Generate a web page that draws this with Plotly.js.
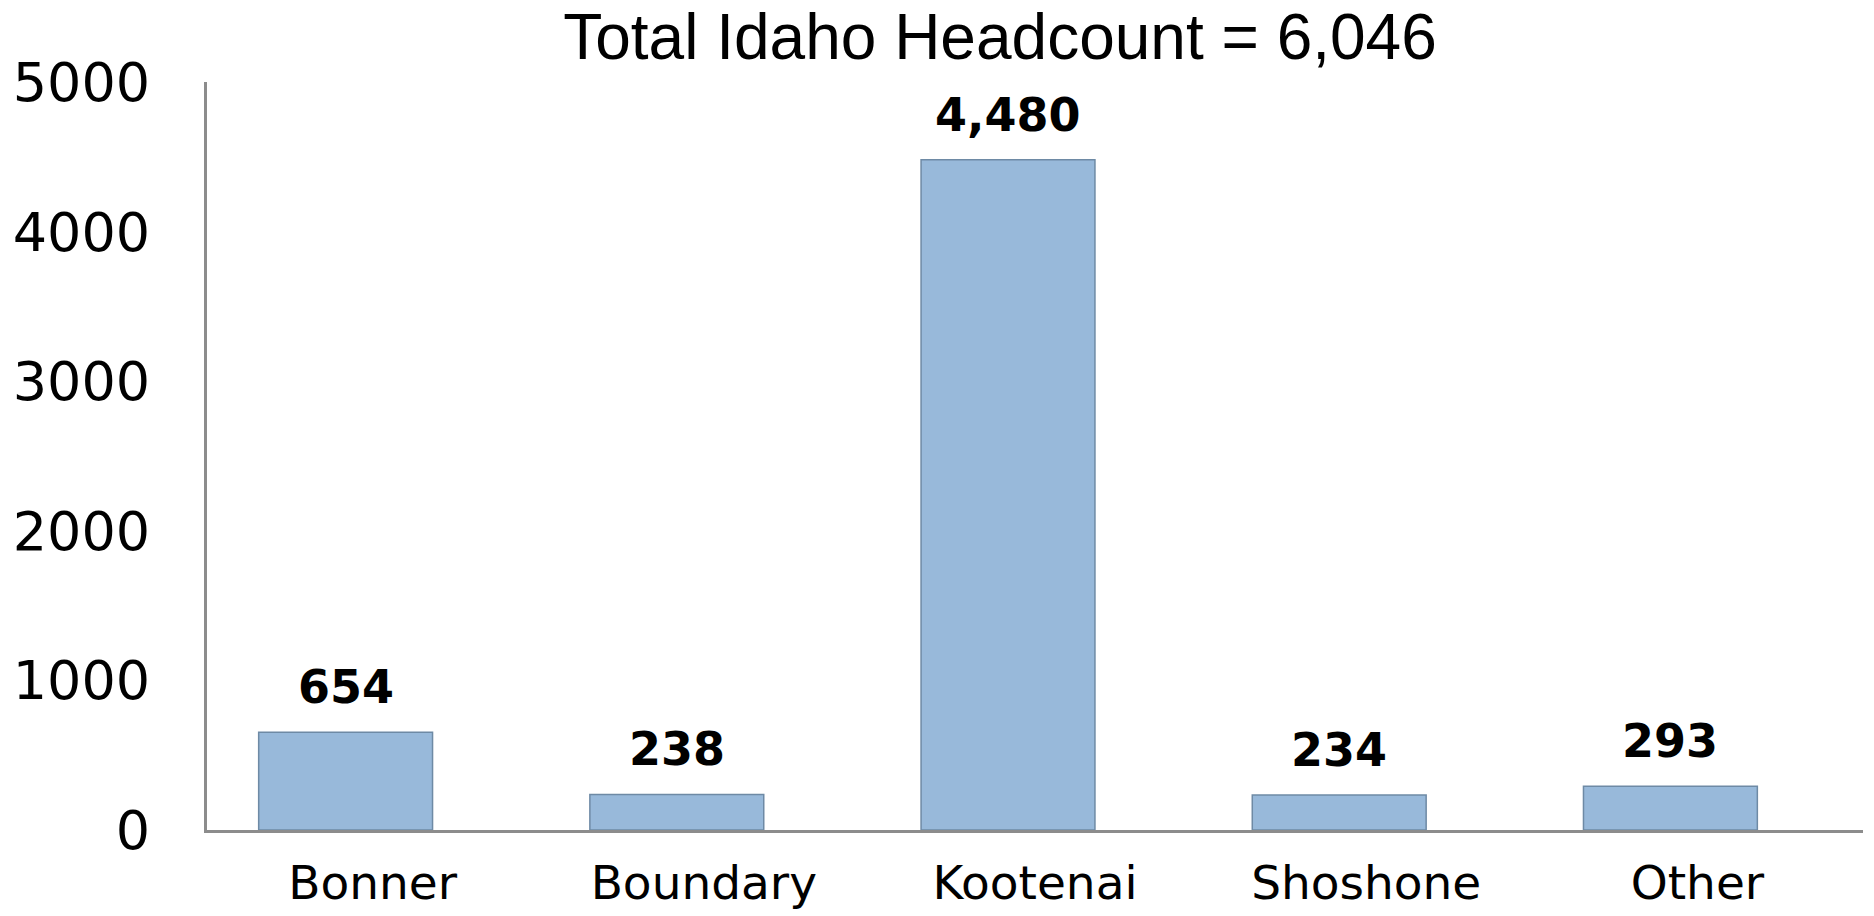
<!DOCTYPE html>
<html>
<head>
<meta charset="utf-8">
<script src="https://cdn.plot.ly/plotly-3.0.1.min.js"></script>
<style>html,body{margin:0;padding:0;background:#fff;}#chart{width:1874px;height:916px;}</style>
</head>
<body>
<div id="chart"></div>
<script>
const categories = ["Bonner", "Boundary", "Kootenai", "Shoshone", "Other"];
const headcount = [654, 238, 4480, 234, 293];
const valueLabels = ["654", "238", "4,480", "234", "293"];
const yTickValues = [0, 1000, 2000, 3000, 4000, 5000];
const yTickLabels = ["0", "1000", "2000", "3000", "4000", "5000"];
const chartTitle = "Total Idaho Headcount = 6,046";

const barWidth = 0.525;
const barOffset = -0.344;

const trace = {
  type: "bar",
  x: categories,
  y: headcount,
  width: barWidth,
  offset: barOffset,
  marker: {
    color: "#98B9DA",
    line: {color: "#6E8AA5", width: 1.5}
  },
  hoverinfo: "x+y"
};

const annotations = categories.map((c, i) => ({
  x: c,
  y: headcount[i],
  xref: "x",
  yref: "y",
  text: valueLabels[i],
  showarrow: false,
  xanchor: "center",
  yanchor: "bottom",
  xshift: -27,
  yshift: 16,
  font: {family: "DejaVu Sans", size: 46, color: "#000", weight: "bold"}
}));

const layout = {
  width: 1874,
  height: 916,
  paper_bgcolor: "#ffffff",
  plot_bgcolor: "#ffffff",
  margin: {l: 207, r: 11, t: 82, b: 86, pad: 0},
  showlegend: false,
  title: {
    text: chartTitle,
    font: {family: "Liberation Sans, Arial, sans-serif", size: 64, color: "#000"},
    x: 1000 / 1874,
    xanchor: "center",
    xref: "container",
    yref: "container",
    y: 1 - 37 / 916,
    yanchor: "middle"
  },
  xaxis: {
    type: "category",
    range: [-0.5, 4.5],
    showline: true,
    linecolor: "#8C8C8C",
    linewidth: 3,
    showgrid: false,
    zeroline: false,
    ticks: "",
    ticklabelstandoff: 10,
    tickfont: {family: "DejaVu Sans", size: 47, color: "#000"},
    fixedrange: true
  },
  yaxis: {
    range: [0, 5000],
    tickvals: yTickValues,
    ticktext: yTickLabels,
    showline: true,
    linecolor: "#8C8C8C",
    linewidth: 3,
    showgrid: false,
    zeroline: false,
    ticks: "",
    ticklabelstandoff: 43,
    tickfont: {family: "DejaVu Sans", size: 54, color: "#000"},
    fixedrange: true
  },
  annotations: annotations
};

Plotly.newPlot("chart", [trace], layout, {displayModeBar: false, staticPlot: true});
</script>
</body>
</html>
